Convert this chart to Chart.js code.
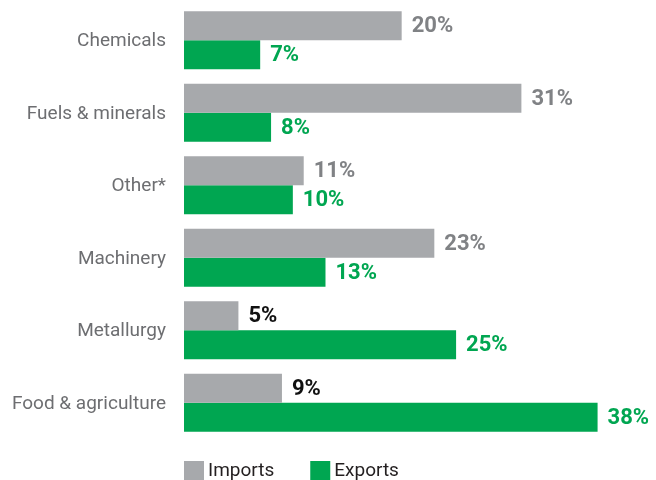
<!DOCTYPE html>
<html><head><meta charset="utf-8">
<script src="https://cdn.jsdelivr.net/npm/chart.js@4"></script>
<style>html,body{margin:0;padding:0;background:#fff;overflow:hidden}#wrap{width:656px;height:480px;position:relative}</style>
</head><body><div id="wrap"><canvas id="c"></canvas></div>
<script>
const categories = ['Chemicals', 'Fuels & minerals', 'Other*', 'Machinery', 'Metallurgy', 'Food & agriculture'];
const imports = [20, 31, 11, 23, 5, 9];
const exports = [7, 8, 10, 13, 25, 38];
const seriesNames = ['Imports', 'Exports'];

const valueLabels = {
  id: 'valueLabels',
  afterDatasetsDraw(chart) {
    const ctx = chart.ctx;
    chart.data.datasets.forEach((ds, di) => {
      const meta = chart.getDatasetMeta(di);
      meta.data.forEach((bar, i) => {
        const v = ds.data[i];
        ctx.save();
        ctx.font = 'bold 22px Roboto';
        ctx.fillStyle = ds.labelColor(v);
        ctx.textAlign = 'left';
        ctx.textBaseline = 'middle';
        ctx.fillText(v + '%', bar.x + 10, bar.y + 1);
        ctx.restore();
      });
    });
  }
};

const bottomLegend = {
  id: 'bottomLegend',
  afterDraw(chart) {
    const ctx = chart.ctx;
    const a = chart.chartArea;
    let x = a.left;
    const top = a.bottom + 22;
    ctx.save();
    ctx.font = '19px Roboto';
    ctx.textBaseline = 'middle';
    ctx.textAlign = 'left';
    chart.data.datasets.forEach(ds => {
      ctx.fillStyle = ds.backgroundColor;
      ctx.fillRect(x, top, 20, 20);
      ctx.fillStyle = '#231f20';
      ctx.fillText(ds.label, x + 24, top + 10);
      x += 24 + ctx.measureText(ds.label).width + 36;
    });
    ctx.restore();
  }
};

new Chart(document.getElementById('c'), {
  type: 'bar',
  data: {
    labels: categories,
    datasets: [
      { label: seriesNames[0], data: imports, backgroundColor: '#a7a9ac', borderWidth: 0,
        labelColor: v => (v < 10 ? '#111111' : '#808285') },
      { label: seriesNames[1], data: exports, backgroundColor: '#00a651', borderWidth: 0,
        labelColor: () => '#00a651' }
    ]
  },
  options: {
    indexAxis: 'y',
    responsive: true,
    maintainAspectRatio: false,
    animation: false,
    layout: { padding: { top: 4, bottom: 41, right: 4, left: 0 } },
    datasets: { bar: { categoryPercentage: 0.8, barPercentage: 1.0 } },
    scales: {
      x: { display: false, min: 0, max: 43 },
      y: {
        grid: { display: false, drawTicks: false },
        border: { display: false },
        ticks: { padding: 18, labelOffset: 1, color: '#6d6e71', font: { family: 'Roboto', size: 19 } },
        afterFit(s) { s.width = 184; s.paddingTop = 0; s.paddingBottom = 0; }
      }
    },
    plugins: { legend: { display: false }, tooltip: { enabled: false } }
  },
  plugins: [valueLabels, bottomLegend]
});
</script>
</body></html>
